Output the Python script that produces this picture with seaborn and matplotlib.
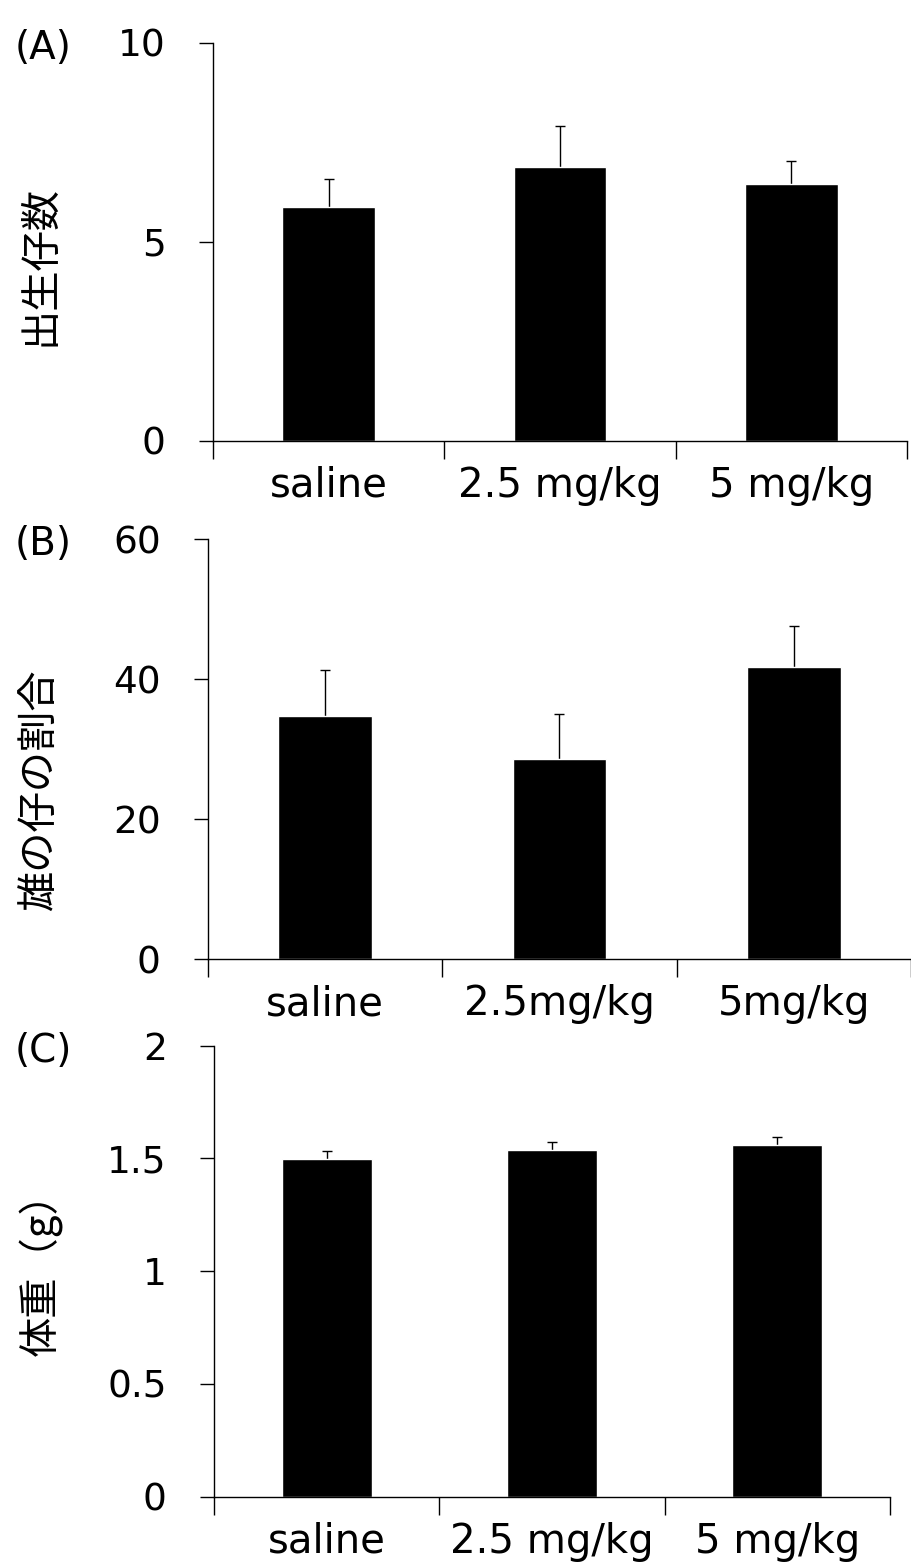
"""
Three-panel bar chart: litter size, male ratio and pup body weight
for saline vs 2.5 mg/kg vs 5 mg/kg groups (mean + upper SE bar)
"""

import matplotlib
matplotlib.use("Agg")
import matplotlib.pyplot as plt
import seaborn as sns

# Data
groups_a = ["saline", "2.5 mg/kg", "5 mg/kg"]
groups_b = ["saline", "2.5mg/kg", "5mg/kg"]
groups_c = ["saline", "2.5 mg/kg", "5 mg/kg"]

litter_size = [5.86, 6.88, 6.44]
litter_size_err = [0.71, 1.03, 0.59]

male_ratio = [34.8, 28.6, 41.7]
male_ratio_err = [6.6, 6.4, 5.9]

body_weight = [1.497, 1.539, 1.560]
body_weight_err = [0.035, 0.036, 0.034]

yticks_a = [0, 5, 10]
yticks_b = [0, 20, 40, 60]
yticks_c = [0, 0.5, 1, 1.5, 2]
yticklabels_a = ["0", "5", "10"]
yticklabels_b = ["0", "20", "40", "60"]
yticklabels_c = ["0", "0.5", "1", "1.5", "2"]

ylabel_a = "出生仔数"
ylabel_b = "雄の仔の割合"
ylabel_c = "体重（g）"

# Style
sns.set_style("white")
plt.rcParams['font.family'] = ['DejaVu Sans', 'Noto Sans CJK JP']
plt.rcParams['text.color'] = 'black'
plt.rcParams['xtick.color'] = 'black'
plt.rcParams['ytick.color'] = 'black'
plt.rcParams['xtick.labelcolor'] = 'black'
plt.rcParams['ytick.labelcolor'] = 'black'
CJK = ['Noto Sans CJK JP', 'DejaVu Sans']

W, H = 912, 1565
fig = plt.figure(figsize=(W / 100, H / 100), dpi=100)
fig.patch.set_facecolor('white')


def px_axes(left, top, right, bottom):
    return fig.add_axes([left / W, 1 - bottom / H, (right - left) / W, (bottom - top) / H])


panels = [
    dict(box=(213, 42.7, 907, 440.7), cats=groups_a, vals=litter_size, err=litter_size_err,
         yticks=yticks_a, ylabels=yticklabels_a, ylabel=ylabel_a, tag="(A)", ylab_y=265),
    dict(box=(208, 539.3, 911, 959.3), cats=groups_b, vals=male_ratio, err=male_ratio_err,
         yticks=yticks_b, ylabels=yticklabels_b, ylabel=ylabel_b, tag="(B)", ylab_y=790),
    dict(box=(214, 1045.7, 890, 1496.7), cats=groups_c, vals=body_weight, err=body_weight_err,
         yticks=yticks_c, ylabels=yticklabels_c, ylabel=ylabel_c, tag="(C)", ylab_y=1264),
]

for p in panels:
    left, top, right, bottom = p['box']
    ax = px_axes(left, top, right, bottom)
    sns.barplot(x=p['cats'], y=p['vals'], color='black', width=0.4,
                errorbar=None, ax=ax, saturation=1, zorder=2)

    # upper-only error bars at the bar centres
    xs = [b.get_x() + b.get_width() / 2 for b in ax.patches]
    hs = [b.get_height() for b in ax.patches]
    eb = ax.errorbar(xs, hs, yerr=[[0] * len(hs), p['err']], fmt='none',
                     ecolor='black', elinewidth=1.0, capsize=3.5, capthick=1.0, zorder=1)
    eb[1][0].set_visible(False)  # hide lower caps

    ax.set_xlim(-0.5, len(p['cats']) - 0.5)
    ax.set_ylim(p['yticks'][0], p['yticks'][-1])
    ax.set_yticks(p['yticks'])
    ax.set_yticklabels(p['ylabels'])
    ax.set_xticks([i - 0.5 for i in range(len(p['cats']) + 1)], minor=True)

    ax.tick_params(axis='x', which='major', length=0, pad=18, labelsize=29, bottom=True)
    ax.tick_params(axis='x', which='minor', length=13, width=1.0, direction='out',
                   color='black', bottom=True)
    ax.tick_params(axis='y', which='major', length=10, width=1.0, direction='out',
                   pad=24, labelsize=27, color='black', left=True)
    ax.set_xlabel('')
    ax.set_ylabel('')

    for side in ['top', 'right']:
        ax.spines[side].set_visible(False)
    for side in ['left', 'bottom']:
        ax.spines[side].set_color('black')
        ax.spines[side].set_linewidth(1.0)

    fig.text(15 / W, 1 - (top + 16) / H, p['tag'], fontsize=28, ha='left', va='baseline')
    fig.text(40 / W, 1 - p['ylab_y'] / H, p['ylabel'], fontsize=29, rotation=90,
             ha='center', va='center', family=CJK)

fig.savefig('out.png', dpi=100, facecolor='white')
print("saved out.png")
